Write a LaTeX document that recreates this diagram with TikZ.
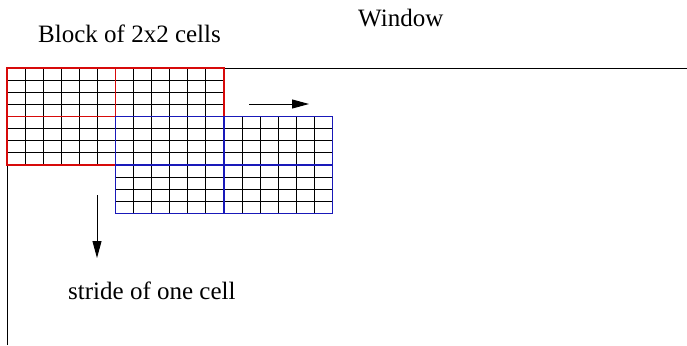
\documentclass[tikz,border=0pt]{standalone}
\usepackage{fontspec}
\setmainfont{Liberation Serif}
\usetikzlibrary{arrows.meta}
\definecolor{blockred}{RGB}{215,10,10}
\definecolor{blockblue}{RGB}{25,25,185}
\tikzset{
  windowline/.style={line width=1pt,black},
  subgrid/.style={line width=1pt,black},
  blockline/.style={line width=1.4pt},
  textlabel/.style={inner sep=0pt,anchor=base west,font=\fontsize{25}{30}\selectfont},
  movearrow/.style={line width=0.9pt,-{Triangle[length=17pt,width=9pt]}},
}
% A block of 2x2 cells, each cell split into 6x4 sub-cells.
% #1,#2: top-left corner, #3: outline colour
\newcommand\cellblock[3]{%
  \foreach \i in {1,...,11}
    \draw[subgrid] (#1+\i*18.0833,#2) -- ++(0,97);
  \foreach \j in {1,...,7}
    \draw[subgrid] (#1,#2+\j*12.125) -- ++(217,0);
  \draw[blockline,#3] (#1,#2) rectangle ++(217,97);
  \draw[blockline,#3] (#1+108.5,#2) -- ++(0,97);
  \draw[blockline,#3] (#1,#2+48.5) -- ++(217,0);
}
\begin{document}
\begin{tikzpicture}[x=1pt,y=-1pt]
\useasboundingbox (0,0) rectangle (687,345);
% window border
\coordinate (winbl) at (7,345);
\coordinate (wintl) at (7,68);
\coordinate (wintr) at (687,68);
\draw[windowline] (winbl) -- (wintl) -- (wintr);
% first block and the block moved by one cell
\cellblock{7}{68}{blockred}
\cellblock{115.5}{116.5}{blockblue}
% labels
\node[textlabel] (blocklabel) at (38,43) {Block of 2x2 cells};
\node[textlabel] (windowlabel) at (358,27) {Window};
\node[textlabel] (stridelabel) at (68,299) {stride of one cell};
% stride directions
\coordinate (rightstart) at (249,104);
\coordinate (rightend) at (309,104);
\coordinate (downstart) at (97,195);
\coordinate (downend) at (97,258);
\draw[movearrow] (rightstart) -- (rightend);
\draw[movearrow] (downstart) -- (downend);
\end{tikzpicture}
\end{document}
